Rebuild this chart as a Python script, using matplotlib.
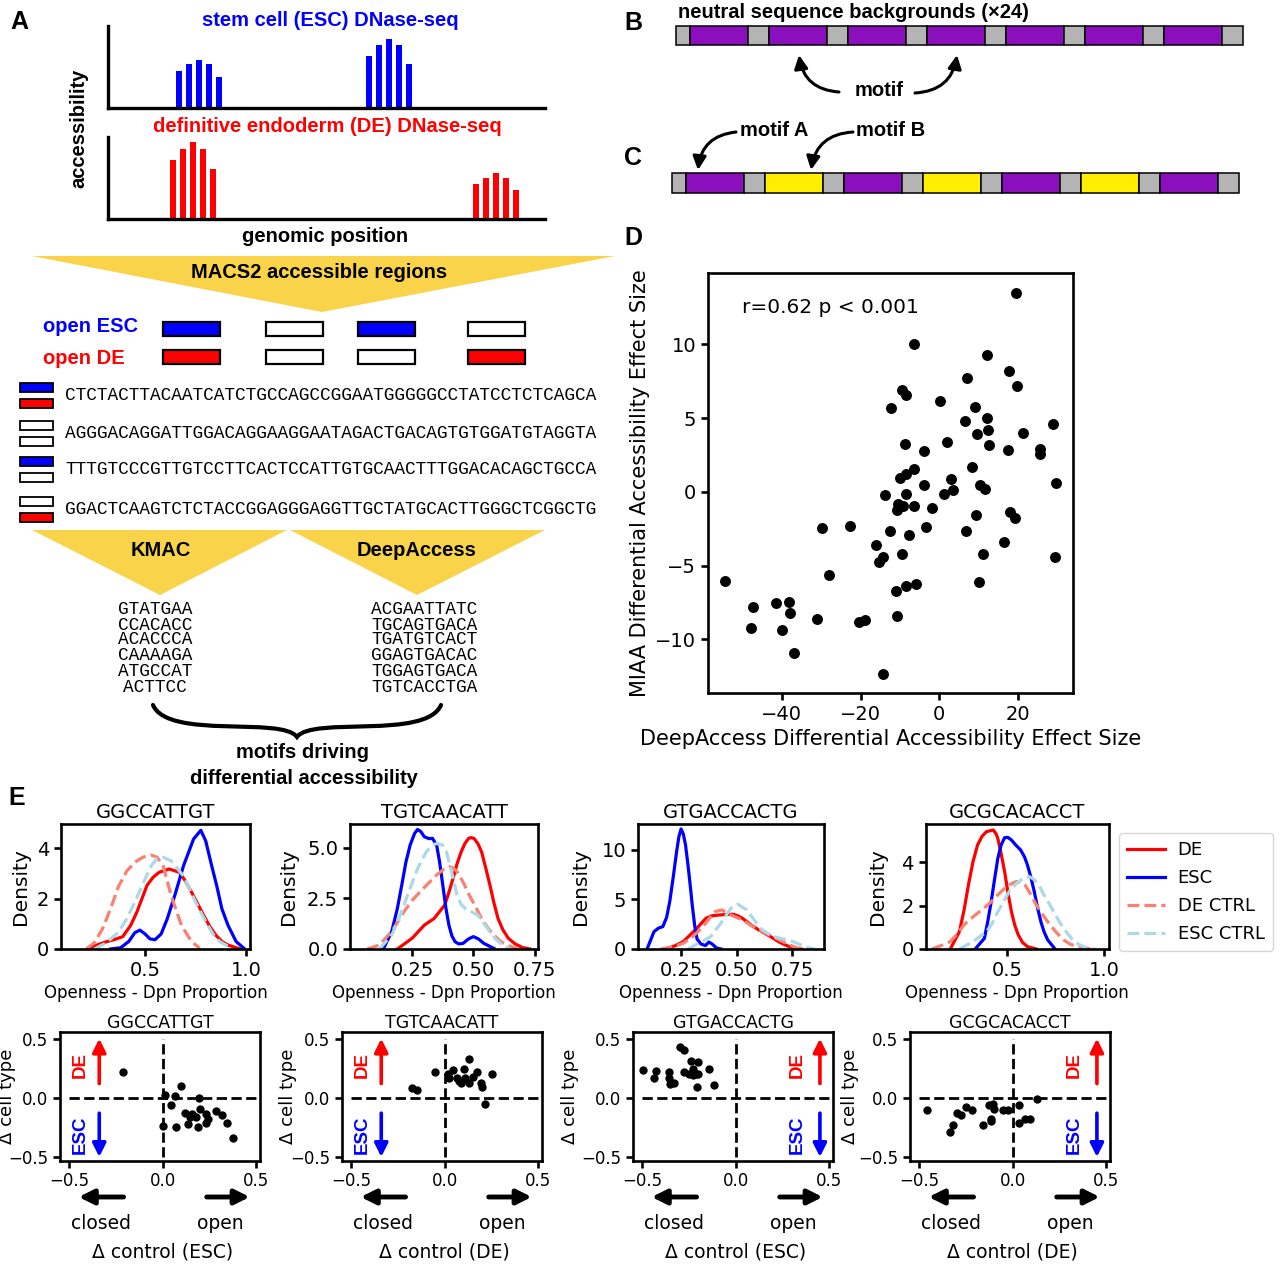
import matplotlib
matplotlib.use("Agg")
import matplotlib.pyplot as plt
from matplotlib.patches import Rectangle, Polygon, PathPatch
from matplotlib.path import Path

W, H = 1280, 1265

# ---------------- panel A: schematic tracks and regions ----------------
bar_offsets = [-20, -10, 0, 10, 20]
esc_peak_pos = [91, 281]
esc_peak_heights = [[37, 44, 48, 44, 31], [52, 63, 69, 63, 44]]
de_peak_pos = [85, 388]
de_peak_heights = [[59, 70, 77, 70, 50], [35, 41, 46, 41, 29]]

# accessible regions, 1 = open
open_esc = [1, 0, 1, 0]
open_de = [1, 0, 0, 1]
region_seqs = [
    "CTCTACTTACAATCATCTGCCAGCCGGAATGGGGGCCTATCCTCTCAGCA",
    "AGGGACAGGATTGGACAGGAAGGAATAGACTGACAGTGTGGATGTAGGTA",
    "TTTGTCCCGTTGTCCTTCACTCCATTGTGCAACTTTGGACACAGCTGCCA",
    "GGACTCAAGTCTCTACCGGAGGGAGGTTGCTATGCACTTGGGCTCGGCTG",
]
kmac_motifs = ["GTATGAA", "CCACACC", "ACACCCA", "CAAAAGA", "ATGCCAT", "ACTTCC"]
deepaccess_motifs = ["ACGAATTATC", "TGCAGTGACA", "TGATGTCACT",
                     "GGAGTGACAC", "TGGAGTGACA", "TGTCACCTGA"]

# ---------------- panels B / C: inserts between background chunks ----------------
b_inserts = ["motif"] * 7
c_inserts = ["motif A", "motif B", "motif A", "motif B", "motif A", "motif B", "motif A"]

# ---------------- panel D ----------------
deep_effect = [19.5, -6.5, 12.2, 17.7, 7.1, 19.7, -9.6, -8.4, 0.2, -12.4, 9.1, 12.1, 6.6, 29.0,
               12.5, 9.6, 21.2, 2.0, -8.6, 12.7, -3.8, 17.5, 25.5, 25.7, 8.4, -6.5, -8.4, -9.9,
               2.9, 29.8, -3.9, 10.3, 11.5, 3.4, 1.1, -8.5, -13.9, -10.5, -9.2, -6.5, -10.8,
               -1.8, 9.4, 18.1, 19.3, -29.9, -22.6, -12.5, -3.5, 6.8, -7.7, 16.4, -16.1, -14.2,
               -15.3, -9.5, 11.0, 29.3, -28.1, -54.4, 10.0, -5.9, -8.4, -10.9, -47.4, -41.5,
               -38.2, -37.9, -31.1, -20.5, -19.0, -10.7, -47.8, -40.1, -36.9, -14.3]
miaa_effect = [13.49, 10.03, 9.31, 8.21, 7.70, 7.19, 6.88, 6.60, 6.14, 5.72, 5.74, 5.02, 4.78, 4.62,
               4.20, 3.92, 3.99, 3.41, 3.22, 3.17, 2.80, 2.85, 2.92, 2.54, 1.70, 1.52, 1.24, 0.96,
               0.84, 0.61, 0.44, 0.47, 0.21, 0.14, -0.16, -0.16, -0.23, -0.82, -0.96, -0.96,
               -1.21, -1.10, -1.56, -1.40, -1.80, -2.45, -2.29, -2.68, -2.40, -2.64, -2.96, -3.43,
               -3.62, -4.43, -4.78, -4.22, -4.22, -4.41, -5.62, -6.07, -6.11, -6.28, -6.42, -6.70,
               -7.79, -7.51, -7.47, -8.21, -8.63, -8.84, -8.68, -8.45, -9.26, -9.40, -10.94, -12.34]

# ---------------- panel E: densities (openness, density) ----------------
motif_names = ["GGCCATTGT", "TGTCAACATT", "GTGACCACTG", "GCGCACACCT"]

ggccattgt_de = [(0.22, 0), (0.27, 0.18), (0.31, 0.29), (0.35, 0.38), (0.39, 0.49), (0.43, 0.95),
                (0.46, 1.47), (0.51, 2.53), (0.54, 2.85), (0.57, 3.05), (0.62, 3.18), (0.67, 3.05),
                (0.70, 2.7), (0.73, 2.26), (0.76, 1.8), (0.79, 1.34), (0.82, 0.9), (0.85, 0.55),
                (0.88, 0.3), (0.91, 0.16), (0.97, 0)]
ggccattgt_esc = [(0.33, 0), (0.38, 0.05), (0.42, 0.3), (0.45, 0.65), (0.475, 0.75), (0.50, 0.6),
                 (0.525, 0.4), (0.55, 0.37), (0.58, 0.6), (0.61, 1.2), (0.65, 2.2), (0.69, 3.3),
                 (0.74, 4.37), (0.776, 4.72), (0.80, 4.3), (0.83, 3.3), (0.855, 2.5), (0.88, 1.6),
                 (0.91, 0.95), (0.95, 0.3), (0.99, 0.02)]
ggccattgt_de_ctrl = [(0.21, 0), (0.25, 0.25), (0.29, 0.8), (0.33, 1.6), (0.37, 2.5), (0.41, 3.1),
                     (0.45, 3.45), (0.49, 3.65), (0.53, 3.74), (0.56, 3.65), (0.59, 3.3),
                     (0.61, 2.7), (0.63, 2.1), (0.66, 1.4), (0.68, 0.95), (0.71, 0.55),
                     (0.73, 0.3), (0.77, 0.03)]
ggccattgt_esc_ctrl = [(0.25, 0), (0.31, 0.25), (0.37, 0.68), (0.41, 1.2), (0.45, 1.87), (0.49, 2.6),
                      (0.53, 3.3), (0.56, 3.6), (0.59, 3.65), (0.63, 3.5), (0.66, 3.2), (0.69, 2.9),
                      (0.72, 2.4), (0.75, 1.87), (0.78, 1.4), (0.81, 0.95), (0.84, 0.55),
                      (0.87, 0.29), (0.93, 0.03)]

tgtcaacatt_de = [(0.19, 0), (0.25, 0.53), (0.30, 1.18), (0.34, 1.51), (0.383, 2.17), (0.40, 2.8),
                 (0.417, 3.49), (0.433, 4.2), (0.45, 4.8), (0.465, 5.2), (0.48, 5.46), (0.49, 5.5),
                 (0.503, 5.45), (0.518, 5.2), (0.533, 4.8), (0.55, 4.0), (0.567, 3.16), (0.583, 2.3),
                 (0.60, 1.51), (0.62, 0.95), (0.642, 0.53), (0.67, 0.25), (0.70, 0.07), (0.73, 0)]
tgtcaacatt_esc = [(0.133, 0), (0.167, 0.86), (0.19, 2.0), (0.208, 3.16), (0.225, 4.3), (0.242, 5.13),
                  (0.26, 5.7), (0.272, 5.9), (0.285, 5.8), (0.30, 5.54), (0.318, 5.45), (0.333, 5.46),
                  (0.35, 5.13), (0.362, 4.3), (0.375, 3.16), (0.388, 2.0), (0.40, 1.18), (0.412, 0.65),
                  (0.425, 0.36), (0.44, 0.25), (0.458, 0.28), (0.48, 0.5), (0.50, 0.61), (0.52, 0.5),
                  (0.542, 0.28), (0.583, 0.03)]
tgtcaacatt_de_ctrl = [(0.067, 0), (0.117, 0.2), (0.167, 0.86), (0.217, 1.84), (0.25, 2.4), (0.283, 2.83),
                      (0.317, 3.25), (0.35, 3.65), (0.375, 3.9), (0.40, 4.06), (0.417, 4.0), (0.433, 3.82),
                      (0.458, 3.3), (0.483, 2.66), (0.508, 2.1), (0.533, 1.51), (0.558, 1.05),
                      (0.583, 0.69), (0.608, 0.4), (0.633, 0.2), (0.683, 0)]
tgtcaacatt_esc_ctrl = [(0.117, 0), (0.167, 0.69), (0.19, 1.3), (0.217, 2.17), (0.242, 3.0), (0.267, 3.82),
                       (0.29, 4.4), (0.308, 4.8), (0.33, 5.1), (0.35, 5.21), (0.375, 5.13), (0.39, 4.8),
                       (0.40, 4.31), (0.417, 3.5), (0.433, 2.66), (0.45, 2.2), (0.467, 2.0), (0.49, 1.85),
                       (0.517, 1.68), (0.54, 1.3), (0.567, 0.86), (0.59, 0.5), (0.617, 0.2), (0.65, 0)]

gtgaccactg_de = [(0.179, 0), (0.22, 0.3), (0.26, 0.74), (0.29, 1.4), (0.321, 2.09), (0.362, 3.1),
                 (0.39, 3.35), (0.423, 3.43), (0.455, 3.48), (0.485, 3.5), (0.506, 3.35), (0.526, 3.1),
                 (0.566, 2.42), (0.598, 1.95), (0.628, 1.58), (0.66, 1.15), (0.689, 0.74),
                 (0.72, 0.4), (0.75, 0.13), (0.791, 0)]
gtgaccactg_esc = [(0.097, 0), (0.128, 1.75), (0.148, 2.1), (0.168, 2.26), (0.185, 3.2), (0.199, 4.78),
                  (0.215, 7.3), (0.230, 9.83), (0.24, 11.3), (0.25, 12.1), (0.26, 11.6), (0.270, 10.5),
                  (0.281, 8.5), (0.291, 6.46), (0.301, 4.3), (0.311, 2.42), (0.322, 1.0), (0.34, 0.5),
                  (0.36, 0.35), (0.375, 0.7), (0.39, 0.5), (0.41, 0.1), (0.43, 0)]
gtgaccactg_de_ctrl = [(0.158, 0), (0.21, 0.2), (0.26, 0.57), (0.30, 1.2), (0.342, 2.09), (0.375, 3.0),
                      (0.403, 3.77), (0.434, 3.94), (0.474, 3.43), (0.526, 2.93), (0.557, 2.5),
                      (0.587, 2.09), (0.618, 1.75), (0.648, 1.41), (0.68, 1.05), (0.709, 0.74),
                      (0.74, 0.4), (0.77, 0.13), (0.80, 0)]
gtgaccactg_esc_ctrl = [(0.281, 0), (0.342, 0.74), (0.383, 1.25), (0.423, 2.42), (0.45, 3.3), (0.474, 4.1),
                       (0.505, 4.51), (0.546, 3.94), (0.577, 3.0), (0.607, 2.09), (0.638, 1.6),
                       (0.668, 1.25), (0.70, 1.05), (0.73, 0.91), (0.76, 0.7), (0.791, 0.4),
                       (0.82, 0.15), (0.852, 0)]

gcgcacacct_de = [(0.209, 0), (0.256, 0.8), (0.28, 1.8), (0.302, 2.95), (0.325, 4.0), (0.349, 4.8),
                 (0.372, 5.2), (0.395, 5.42), (0.43, 5.49), (0.445, 5.3), (0.453, 5.1), (0.47, 4.4),
                 (0.488, 3.57), (0.505, 2.6), (0.523, 1.72), (0.54, 1.1), (0.558, 0.65), (0.58, 0.3),
                 (0.605, 0.11), (0.65, 0)]
gcgcacacct_esc = [(0.337, 0), (0.384, 0.49), (0.40, 1.2), (0.419, 2.18), (0.436, 3.2), (0.453, 4.18),
                  (0.47, 4.8), (0.488, 5.14), (0.505, 5.15), (0.523, 5.03), (0.545, 4.8), (0.57, 4.57),
                  (0.59, 4.25), (0.605, 3.88), (0.623, 3.3), (0.64, 2.65), (0.657, 1.9), (0.674, 1.26),
                  (0.69, 0.8), (0.709, 0.42), (0.744, 0.03)]
gcgcacacct_de_ctrl = [(0.116, 0), (0.16, 0.15), (0.209, 0.34), (0.245, 0.7), (0.279, 1.11), (0.314, 1.4),
                      (0.349, 1.65), (0.384, 1.9), (0.419, 2.18), (0.453, 2.5), (0.488, 2.8), (0.52, 3.0),
                      (0.547, 3.11), (0.57, 3.08), (0.593, 2.95), (0.62, 2.55), (0.651, 2.03),
                      (0.686, 1.55), (0.721, 1.11), (0.755, 0.75), (0.79, 0.42), (0.825, 0.22),
                      (0.86, 0.11), (0.93, 0)]
gcgcacacct_esc_ctrl = [(0.256, 0), (0.326, 0.34), (0.395, 0.8), (0.425, 1.2), (0.453, 1.72), (0.483, 2.2),
                       (0.512, 2.65), (0.54, 2.95), (0.57, 3.18), (0.595, 3.3), (0.616, 3.34), (0.64, 3.2),
                       (0.663, 2.95), (0.69, 2.5), (0.721, 2.03), (0.75, 1.55), (0.779, 1.11),
                       (0.808, 0.75), (0.837, 0.42), (0.87, 0.2), (0.907, 0.06), (0.95, 0)]

# ---------------- panel E: delta control vs delta cell type ----------------
ggccattgt_delta = [(-0.213, 0.217), (0.099, 0.096), (0.011, 0.02), (0.066, 0.011), (0.191, -0.003),
                   (0.044, -0.059), (0.121, -0.127), (0.154, -0.135), (0.197, -0.093), (0.23, -0.135),
                   (0.285, -0.115), (0.318, -0.149), (0.346, -0.211), (0.0, -0.239), (0.07, -0.248),
                   (0.136, -0.22), (0.186, -0.248), (0.23, -0.211), (0.373, -0.338), (0.175, -0.163),
                   (0.241, -0.177), (0.143, -0.163)]
tgtcaacatt_delta = [(-0.174, 0.082), (-0.148, 0.062), (-0.052, 0.217), (0.022, 0.166), (0.043, 0.231),
                    (0.065, 0.166), (0.104, 0.245), (0.13, 0.324), (0.109, 0.166), (0.152, 0.175),
                    (0.17, 0.217), (0.087, 0.127), (0.13, 0.127), (0.191, 0.127), (0.2, 0.09),
                    (0.25, 0.203), (0.213, -0.056), (0.017, 0.203), (0.076, 0.146)]
gtgaccactg_delta = [(-0.497, 0.231), (-0.429, 0.223), (-0.437, 0.166), (-0.356, 0.217), (-0.352, 0.118),
                    (-0.328, 0.124), (-0.356, 0.166), (-0.296, 0.428), (-0.276, 0.408), (-0.276, 0.217),
                    (-0.241, 0.315), (-0.201, 0.301), (-0.231, 0.245), (-0.252, 0.203), (-0.215, 0.203),
                    (-0.201, 0.203), (-0.207, 0.09), (-0.141, 0.245), (-0.115, 0.104), (-0.227, 0.189)]
gcgcacacct_delta = [(-0.46, -0.107), (-0.338, -0.285), (-0.318, -0.234), (-0.299, -0.127), (-0.279, -0.149),
                    (-0.25, -0.079), (-0.216, -0.107), (-0.161, -0.228), (-0.126, -0.059), (-0.118, -0.177),
                    (-0.116, -0.2), (-0.098, -0.093), (-0.053, -0.099), (-0.028, -0.107), (0.031, -0.059),
                    (0.031, -0.211), (0.065, -0.177), (0.094, -0.177), (0.13, -0.014), (-0.106, -0.051)]
control_labels = ["\u0394 control (ESC)", "\u0394 control (DE)", "\u0394 control (ESC)", "\u0394 control (DE)"]

SANS = "Liberation Sans"
MONO = "Liberation Mono"
BLUE, RED = "#0000ff", "#ff0000"
GOLD = "#f9d44a"
PURPLE, YELLOW, GRAY = "#8c0fbd", "#ffee00", "#b4b4b4"

fig = plt.figure(figsize=(W / 100, H / 100), dpi=100)


def box(l, t, w, h):
    # pixel box (left, top, width, height) -> figure fraction rect
    return [l / W, 1 - (t + h) / H, w / W, h / H]


cv = fig.add_axes([0, 0, 1, 1], zorder=-1)
cv.set_xlim(0, W)
cv.set_ylim(H, 0)
cv.axis("off")


def bold(x, y, s, size=14.5, color="k", **kw):
    kw.setdefault("ha", "center")
    cv.text(x, y, s, fontsize=size, color=color, fontweight="bold", family=SANS, va="center", **kw)


for letter, xy in zip("ABCDE", [(19, 22), (633, 23), (633, 158), (633, 238), (17, 798)]):
    bold(*xy, letter, size=18)

# ---- A: tracks
def track(top, pos, heights, color):
    ax = fig.add_axes(box(108, top, 437, 82))
    for p, hs in zip(pos, heights):
        ax.bar([p + o for o in bar_offsets], hs, width=5.5, color=color)
    ax.set_xlim(0, 437)
    ax.set_ylim(0, 82)
    ax.spines[["top", "right"]].set_visible(False)
    ax.spines[["left", "bottom"]].set_linewidth(2.4)
    ax.set_xticks([])
    ax.set_yticks([])
    ax.patch.set_alpha(0)


track(25.5, esc_peak_pos, esc_peak_heights, BLUE)
track(137, de_peak_pos, de_peak_heights, RED)
bold(330, 20, "stem cell (ESC) DNase-seq", color=BLUE)
bold(327, 127, "definitive endoderm (DE) DNase-seq", color=RED)
bold(79, 128, "accessibility", rotation=90)
bold(325, 237, "genomic position")

cv.add_patch(Polygon([(32, 256), (615, 256), (322, 312)], closed=True, fc=GOLD, lw=0))
bold(319, 272, "MACS2 accessible regions")

region_x = [163, 266, 358, 468]
for x, e, d in zip(region_x, open_esc, open_de):
    cv.add_patch(Rectangle((x, 322), 57, 14, fc=BLUE if e else "white", ec="k", lw=1.6))
    cv.add_patch(Rectangle((x, 350), 57, 14, fc=RED if d else "white", ec="k", lw=1.6))
bold(43, 327, "open ESC", color=BLUE, ha="left")
bold(43, 358, "open DE", color=RED, ha="left")

for y, seq, e, d in zip([395, 433, 469, 509], region_seqs, open_esc, open_de):
    cv.add_patch(Rectangle((20, y - 12), 33, 9, fc=BLUE if e else "white", ec="k", lw=1.3))
    cv.add_patch(Rectangle((20, y + 4), 33, 9, fc=RED if d else "white", ec="k", lw=1.3))
    cv.text(65, y, seq, family=MONO, fontsize=12.8, ha="left", va="center")

cv.add_patch(Polygon([(32, 530), (287, 530), (160, 595)], closed=True, fc=GOLD, lw=0))
cv.add_patch(Polygon([(290, 530), (545, 530), (417, 595)], closed=True, fc=GOLD, lw=0))
bold(161, 551, "KMAC")
bold(417, 551, "DeepAccess")
motif_rows = [609, 625, 640, 655, 672, 688]
for y, m in zip(motif_rows, kmac_motifs):
    cv.text(155, y, m, family=MONO, fontsize=12.8, ha="center", va="center")
for y, m in zip(motif_rows, deepaccess_motifs):
    cv.text(424, y, m, family=MONO, fontsize=12.8, ha="center", va="center")

brace = Path([(153, 705), (168, 740), (282, 716), (297, 737), (312, 716), (426, 740), (441, 705)],
             [Path.MOVETO] + [Path.CURVE4] * 6)
cv.add_patch(PathPatch(brace, fc="none", ec="k", lw=3, capstyle="round"))
bold(302, 752, "motifs driving")
bold(304, 778, "differential accessibility")

# ---- B / C: sequence strips
insert_colors = {"motif": PURPLE, "motif A": PURPLE, "motif B": YELLOW}


def strip(x0, top, inserts, h):
    x = x0
    cv.add_patch(Rectangle((x, top), 14, h, fc=GRAY, ec="k", lw=1.1))
    x += 14
    for name in inserts:
        cv.add_patch(Rectangle((x, top), 58, h, fc=insert_colors[name], ec="k", lw=1.1))
        x += 58
        cv.add_patch(Rectangle((x, top), 21, h, fc=GRAY, ec="k", lw=1.1))
        x += 21


arrow_kw = dict(arrowstyle="-|>", color="k", lw=2.2, mutation_scale=20, shrinkA=0, shrinkB=0)
bold(678, 12, "neutral sequence backgrounds (\u00d724)", ha="left")
strip(676, 26, b_inserts, 19)
cv.annotate("", xy=(799, 55), xytext=(839, 92),
            arrowprops=dict(connectionstyle="arc3,rad=-0.4", **arrow_kw))
cv.annotate("", xy=(957, 55), xytext=(915, 93),
            arrowprops=dict(connectionstyle="arc3,rad=0.4", **arrow_kw))
bold(879, 90, "motif")

bold(740, 131, "motif A", ha="left")
bold(856, 131, "motif B", ha="left")
cv.annotate("", xy=(698, 170), xytext=(736, 132),
            arrowprops=dict(connectionstyle="arc3,rad=0.4", **arrow_kw))
cv.annotate("", xy=(811, 170), xytext=(853, 132),
            arrowprops=dict(connectionstyle="arc3,rad=0.4", **arrow_kw))
strip(672, 173, c_inserts, 20)


def frame(ax, lw=1.9, size=14):
    for s in ax.spines.values():
        s.set_linewidth(lw)
    ax.tick_params(width=lw, length=5, labelsize=size)


# ---- D
axd = fig.add_axes(box(708, 273, 365, 420))
axd.scatter(deep_effect, miaa_effect, s=62, c="k", lw=0)
axd.set_xlim(-58.8, 34)
axd.set_ylim(-13.65, 14.85)
axd.set_xticks([-40, -20, 0, 20])
axd.set_yticks([-10, -5, 0, 5, 10])
axd.text(-50.1, 12.48, "r=0.62 p < 0.001", fontsize=14.5, va="center")
axd.set_xlabel("DeepAccess Differential Accessibility Effect Size", fontsize=15)
axd.set_ylabel("MIAA Differential Accessibility Effect Size", fontsize=15)
frame(axd, size=14)

# ---- E top row: densities
densities = [
    (ggccattgt_de, ggccattgt_esc, ggccattgt_de_ctrl, ggccattgt_esc_ctrl),
    (tgtcaacatt_de, tgtcaacatt_esc, tgtcaacatt_de_ctrl, tgtcaacatt_esc_ctrl),
    (gtgaccactg_de, gtgaccactg_esc, gtgaccactg_de_ctrl, gtgaccactg_esc_ctrl),
    (gcgcacacct_de, gcgcacacct_esc, gcgcacacct_de_ctrl, gcgcacacct_esc_ctrl),
]
series_style = [("DE", RED, "-"), ("ESC", BLUE, "-"),
                ("DE CTRL", "salmon", "--"), ("ESC CTRL", "lightblue", "--")]
top_boxes = [(61, 189), (350, 188), (638, 185.6), (925.5, 183.4)]
top_xlims = [(0.085, 1.019), (-0.003, 0.763), (0.056, 0.892), (0.082, 1.023)]
top_ytop = [4.97, 6.17, 12.6, 5.77]
top_xticks = [[0.5, 1.0], [0.25, 0.5, 0.75], [0.25, 0.5, 0.75], [0.5, 1.0]]
top_yticks = [[0, 2, 4], [0, 2.5, 5.0], [0, 5, 10], [0, 2, 4]]
density_label_x = [30, 298, 590, 887]

handles = []
for i, curves in enumerate(densities):
    l, w = top_boxes[i]
    ax = fig.add_axes(box(l, 824, w, 125))
    for pts, (lab, col, ls) in zip(curves, series_style):
        xs, ys = zip(*pts)
        line, = ax.plot(xs, ys, color=col, ls=ls, lw=2.3, label=lab)
        if i == 0:
            handles.append(line)
    ax.set_xlim(*top_xlims[i])
    ax.set_ylim(0, top_ytop[i])
    ax.set_xticks(top_xticks[i])
    ax.set_yticks(top_yticks[i])
    ax.set_title(motif_names[i], fontsize=14, pad=4)
    ax.set_ylabel("Density", fontsize=14.5)
    ax.yaxis.set_label_coords((density_label_x[i] - l) / w, 0.5)
    ax.set_xlabel("Openness - Dpn Proportion", fontsize=12, labelpad=3)
    frame(ax, size=14)

fig.legend(handles, [h.get_label() for h in handles], loc="upper left",
           bbox_to_anchor=(1119 / W, 1 - 833 / H), fontsize=13, handlelength=2.1,
           handletextpad=0.7, labelspacing=0.55, borderaxespad=0, borderpad=0.45,
           edgecolor="#cccccc")

# ---- E bottom row: delta scatter
deltas = [ggccattgt_delta, tgtcaacatt_delta, gtgaccactg_delta, gcgcacacct_delta]
bottom_lefts = [60, 342, 633, 910]
cell_label_x = [16, 297, 579, 859]
cell_side = [-1, -1, 1, 1]
for i, pts in enumerate(deltas):
    ax = fig.add_axes(box(bottom_lefts[i], 1032, 200, 128.5))
    ax.plot([-0.5, 0.5], [0, 0], "k--", lw=2)
    ax.plot([0, 0], [-0.5, 0.5], "k--", lw=2)
    xs, ys = zip(*pts)
    ax.scatter(xs, ys, s=36, c="k", lw=0, zorder=3)
    ax.set_xlim(-0.55, 0.52)
    ax.set_ylim(-0.53, 0.556)
    ax.set_xticks([-0.5, 0.0, 0.5])
    ax.set_yticks([-0.5, 0.0, 0.5])
    ax.set_title(motif_names[i], fontsize=12.5, pad=3)
    ax.set_ylabel("\u0394 cell type", fontsize=13)
    ax.yaxis.set_label_coords((cell_label_x[i] - bottom_lefts[i]) / 200, 0.5)
    frame(ax, size=12)

    tx, axx = (-0.44, -0.34) if cell_side[i] < 0 else (0.33, 0.45)
    ax.text(tx, 0.28, "DE", color=RED, rotation=90, fontsize=13.5, fontweight="bold",
            family=SANS, ha="center", va="center")
    ax.annotate("", xy=(axx, 0.5), xytext=(axx, 0.12),
                arrowprops=dict(arrowstyle="-|>", color=RED, lw=2.6, mutation_scale=20,
                                shrinkA=0, shrinkB=0))
    ax.text(tx, -0.31, "ESC", color=BLUE, rotation=90, fontsize=13.5, fontweight="bold",
            family=SANS, ha="center", va="center")
    ax.annotate("", xy=(axx, -0.5), xytext=(axx, -0.13),
                arrowprops=dict(arrowstyle="-|>", color=BLUE, lw=2.6, mutation_scale=20,
                                shrinkA=0, shrinkB=0))

    tr = ax.get_xaxis_transform()
    big = dict(arrowstyle="-|>", color="k", lw=3.5, mutation_scale=22, shrinkA=0, shrinkB=0)
    ax.annotate("", xy=(-0.45, -0.284), xytext=(-0.21, -0.284), xycoords=tr,
                arrowprops=big, annotation_clip=False)
    ax.annotate("", xy=(0.465, -0.284), xytext=(0.235, -0.284), xycoords=tr,
                arrowprops=big, annotation_clip=False)
    ax.text(-0.33, -0.494, "closed", transform=tr, fontsize=13.5, ha="center", va="center")
    ax.text(0.31, -0.494, "open", transform=tr, fontsize=13.5, ha="center", va="center")
    ax.text(0.0, -0.712, control_labels[i], transform=tr, fontsize=13.5, ha="center", va="center")

fig.savefig("out.png", dpi=100)
